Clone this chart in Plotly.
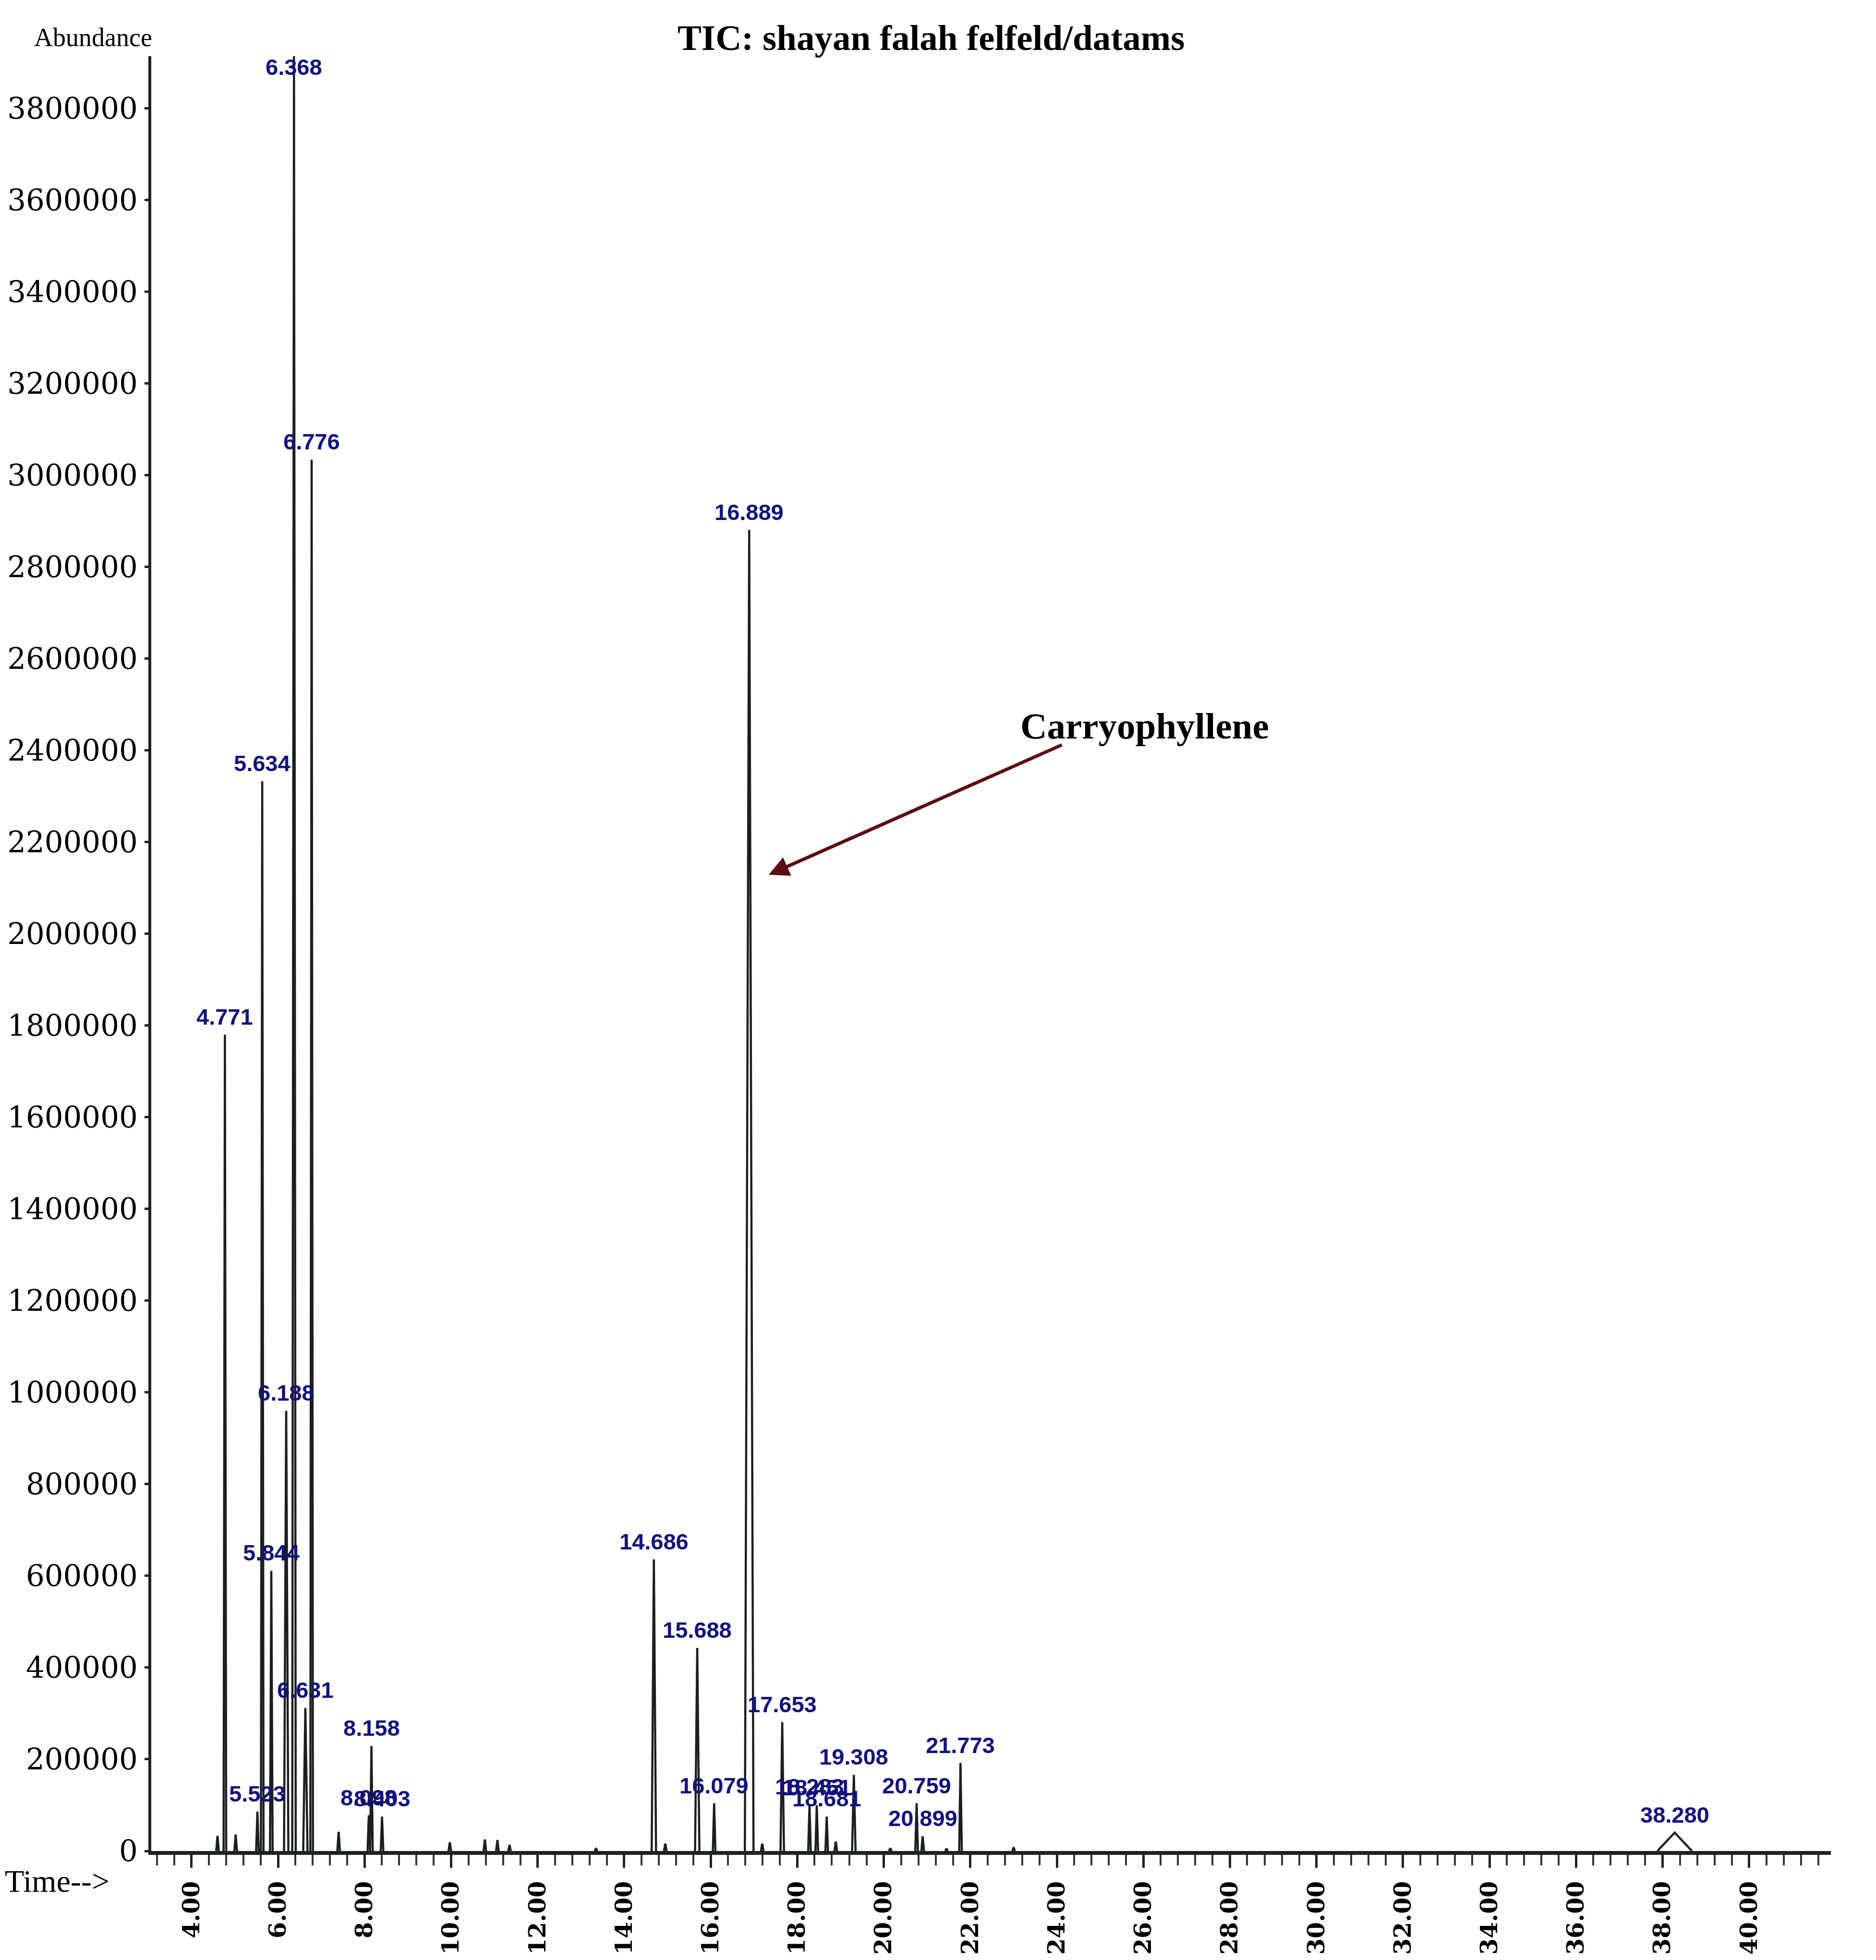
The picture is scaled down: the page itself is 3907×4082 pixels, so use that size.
import plotly.graph_objects as go

# ---------------- data ----------------
# labelled peaks (retention time in min, abundance at apex)
peak_labels = ["4.771", "5.523", "5.634", "5.844", "6.188", "6.368", "6.631", "6.776",
               "8.098", "8.158", "8.403", "14.686", "15.688", "16.079", "16.889", "17.653",
               "18.283", "18.451", "18.681", "19.308", "20.759", "20.899", "21.773", "38.280"]
peak_times = [4.771, 5.523, 5.634, 5.844, 6.188, 6.368, 6.631, 6.776,
              8.098, 8.158, 8.403, 14.686, 15.688, 16.079, 16.889, 17.653,
              18.283, 18.451, 18.681, 19.308, 20.759, 20.899, 21.773, 38.280]
peak_heights = [1780000, 86000, 2333000, 611000, 960000, 3914000, 312000, 3034000,
                78000, 229000, 75000, 636000, 443000, 104000, 2881000, 281000,
                102000, 100000, 75000, 166000, 104000, 32000, 192000, 40000]
peak_halfwidths = [0.03, 0.03, 0.03, 0.03, 0.05, 0.04, 0.05, 0.03,
                   0.03, 0.03, 0.03, 0.05, 0.05, 0.03, 0.10, 0.04,
                   0.03, 0.03, 0.03, 0.04, 0.03, 0.03, 0.03, 0.40]

# small unlabelled peaks
minor_times = [4.60, 5.02, 7.40, 9.97, 10.78, 11.07, 11.35, 13.35,
               14.95, 17.19, 18.89, 20.15, 21.45, 23.00]
minor_heights = [33000, 36000, 42000, 19000, 25000, 24000, 13000, 6000,
                 16000, 16000, 21000, 6000, 5000, 8000]

# axes
x_range = [3.069, 41.89]
y_range = [0, 3914000]
x_tick_vals = [4, 6, 8, 10, 12, 14, 16, 18, 20, 22, 24, 26, 28, 30, 32, 34, 36, 38, 40]
x_tick_text = ["4.00", "6.00", "8.00", "10.00", "12.00", "14.00", "16.00", "18.00", "20.00",
               "22.00", "24.00", "26.00", "28.00", "30.00", "32.00", "34.00", "36.00",
               "38.00", "40.00"]
y_tick_vals = list(range(0, 3800001, 200000))
y_tick_text = [str(v) for v in y_tick_vals]

title_text = "TIC: shayan falah felfeld/datams"
arrow_text = "Carryophyllene"
arrow_target = (17.34, 2129000)

# ---------------- build traces ----------------
xs, ys = [], []
all_t = peak_times + minor_times
all_h = peak_heights + minor_heights
all_w = peak_halfwidths + [0.03] * len(minor_times)
for t, h, w in zip(all_t, all_h, all_w):
    xs += [t - w, t, t + w, None]
    ys += [0, h, 0, None]

fig = go.Figure()
fig.add_trace(go.Scatter(x=xs, y=ys, mode="lines",
                         line=dict(color="#1b1f1f", width=4.5),
                         hoverinfo="skip", showlegend=False, cliponaxis=True))

label_font = "Liberation Sans, Arial, sans-serif"
cap = y_range[1] * 0.984
for lab, t, h in zip(peak_labels, peak_times, peak_heights):
    yl = min(h, cap)
    fig.add_annotation(x=t, y=yl, text=lab, showarrow=False, xanchor="center",
                       yanchor="bottom", xshift=0, yshift=9,
                       font=dict(family=label_font, size=47, color="#12127a", weight="bold"))

# arrow + compound name
fig.add_annotation(x=arrow_target[0], y=arrow_target[1], text="", showarrow=True,
                   ax=612, ay=-271, arrowhead=2, arrowsize=1.2, arrowwidth=7,
                   arrowcolor="#5c0d14", standoff=0)
fig.add_annotation(xref="paper", yref="paper", x=0.5915, y=0.6268, text=arrow_text,
                   showarrow=False, xanchor="center", yanchor="middle",
                   font=dict(family="Liberation Serif, serif", size=77, color="#000000",
                             weight="bold"))

# title and axis captions
fig.add_annotation(xref="paper", yref="paper", x=0.4643, y=1.0104, text=title_text,
                   showarrow=False, xanchor="center", yanchor="middle",
                   font=dict(family="Liberation Serif, serif", size=75, color="#000000",
                             weight="bold"))
fig.add_annotation(xref="paper", yref="paper", x=-0.0346, y=1.0104, text="Abundance",
                   showarrow=False, xanchor="center", yanchor="middle",
                   font=dict(family="Liberation Serif, serif", size=54, color="#000000"))
fig.add_annotation(xref="paper", yref="paper", x=-0.0878, y=-0.01685, text="Time-->",
                   showarrow=False, xanchor="left", yanchor="middle",
                   font=dict(family="Liberation Serif, serif", size=66, color="#000000"))

fig.update_layout(
    width=3907, height=4082,
    margin=dict(l=315, r=94, t=117, b=227, pad=0, autoexpand=False),
    paper_bgcolor="white", plot_bgcolor="white",
    showlegend=False,
)
fig.update_xaxes(
    range=x_range, showgrid=False, zeroline=False, automargin=False,
    showline=True, linecolor="#1e2222", linewidth=8,
    ticks="outside", ticklen=27, tickwidth=5, tickcolor="#222222",
    tickmode="array", tickvals=x_tick_vals, ticktext=x_tick_text, tickangle=-90,
    tickfont=dict(family="DejaVu Serif, serif", size=49, color="#000000", weight="bold"),
    ticklabelstandoff=8,
    minor=dict(dtick=0.4, tick0=0, ticks="outside", ticklen=22, tickwidth=4,
               tickcolor="#333333", showgrid=False),
)
fig.update_yaxes(
    range=y_range, showgrid=False, zeroline=False, automargin=False,
    showline=True, linecolor="#1e2222", linewidth=6,
    ticks="outside", ticklen=8, tickwidth=5, tickcolor="#222222",
    tickmode="array", tickvals=y_tick_vals, ticktext=y_tick_text,
    tickfont=dict(family="DejaVu Serif, serif", size=61, color="#000000"),
    ticklabelstandoff=2,
)

fig.write_html("out.html", config={"displayModeBar": False})
